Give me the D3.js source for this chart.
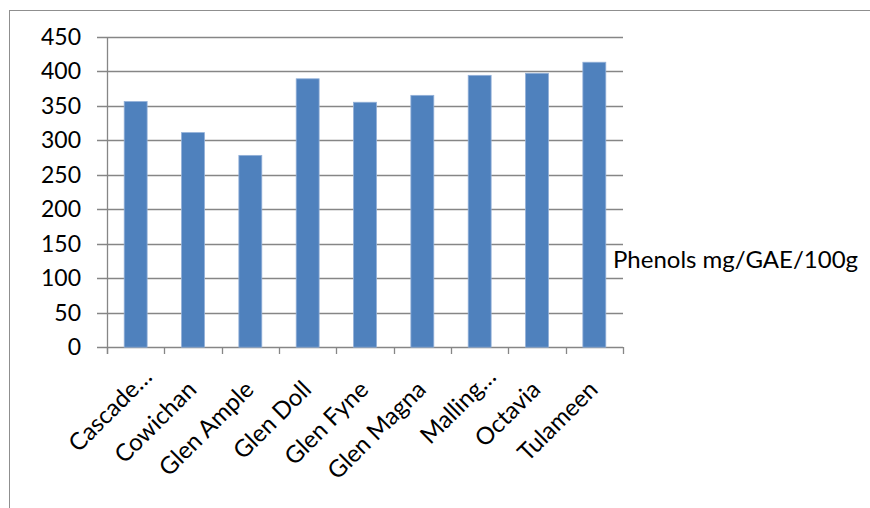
<!DOCTYPE html>
<html>
<head>
<meta charset="utf-8">
<script src="https://cdn.jsdelivr.net/npm/d3@7"></script>
<style>
  html, body { margin: 0; padding: 0; background: #fff; }
  svg { display: block; }
  text { font-family: Lato, "Open Sans", sans-serif; fill: #000; }
</style>
</head>
<body>
<svg id="chart" width="870" height="508"></svg>
<script>
// Raspberry cultivars and their total phenolic content
const cultivars = ["Cascade…", "Cowichan", "Glen Ample", "Glen Doll", "Glen Fyne",
                   "Glen Magna", "Malling…", "Octavia", "Tulameen"];
const phenols = [356, 311, 278, 389, 355, 365, 394, 397, 413];
const yTicks = [0, 50, 100, 150, 200, 250, 300, 350, 400, 450];
const seriesName = "Phenols mg/GAE/100g";

const svg = d3.select("#chart");
const W = 870, H = 508;

// chart frame (runs past the right and bottom edges)
svg.append("rect")
  .attr("x", 9.5).attr("y", 10.5)
  .attr("width", W).attr("height", H)
  .attr("fill", "#fff").attr("stroke", "#8f8f8f").attr("stroke-width", 1);

const plot = { left: 107, right: 623, top: 36.7, bottom: 347.2 };

const x = d3.scaleBand()
  .domain(cultivars)
  .range([plot.left, plot.right])
  .paddingInner(0.6)
  .paddingOuter(0.3);

const xCat = d3.scaleBand().domain(cultivars).range([plot.left, plot.right]);

const y = d3.scaleLinear()
  .domain([0, 450])
  .range([plot.bottom, plot.top]);

const grid = "#868686";

// horizontal gridlines with left tick marks
svg.append("g")
  .selectAll("line")
  .data(yTicks)
  .join("line")
  .attr("x1", plot.left - 10)
  .attr("x2", plot.right)
  .attr("y1", d => Math.round(y(d)) + 0.5)
  .attr("y2", d => Math.round(y(d)) + 0.5)
  .attr("stroke", grid)
  .attr("stroke-width", 1.3);

// vertical axis line
svg.append("line")
  .attr("x1", plot.left + 0.5).attr("x2", plot.left + 0.5)
  .attr("y1", Math.round(y(450)) + 0.5).attr("y2", Math.round(y(0)) + 7)
  .attr("stroke", grid).attr("stroke-width", 1.3);

// category boundary ticks below the baseline
const bounds = cultivars.map(c => xCat(c)).concat([plot.right]);
svg.append("g")
  .selectAll("line")
  .data(bounds)
  .join("line")
  .attr("x1", d => Math.round(d) + 0.5)
  .attr("x2", d => Math.round(d) + 0.5)
  .attr("y1", Math.round(y(0)))
  .attr("y2", Math.round(y(0)) + 7)
  .attr("stroke", grid).attr("stroke-width", 1.3);

// y tick labels
svg.append("g")
  .selectAll("text")
  .data(yTicks)
  .join("text")
  .attr("x", 81)
  .attr("y", d => y(d) + 8)
  .attr("text-anchor", "end")
  .attr("font-size", 23)
  .text(d => d);

// bars
svg.append("g")
  .selectAll("rect")
  .data(cultivars.map((c, i) => ({ c, v: phenols[i] })))
  .join("rect")
  .attr("x", d => x(d.c))
  .attr("y", d => y(d.v))
  .attr("width", x.bandwidth())
  .attr("height", d => y(0) - y(d.v))
  .attr("fill", "#4f81bd")
  .attr("stroke", "#92b0d8")
  .attr("stroke-width", 0.8);

// rotated category labels
svg.append("g")
  .selectAll("text")
  .data(cultivars)
  .join("text")
  .attr("transform", d => {
    const cx = xCat(d) + xCat.bandwidth() / 2 + 5;
    return `translate(${cx},391) rotate(-45)`;
  })
  .attr("dx", d => d.endsWith("…") ? 18 : 0)
  .attr("text-anchor", "end")
  .attr("font-size", 24)
  .text(d => d);

// series legend
svg.append("text")
  .attr("x", 613)
  .attr("y", 268)
  .attr("font-size", 24)
  .text(seriesName);
</script>
</body>
</html>
